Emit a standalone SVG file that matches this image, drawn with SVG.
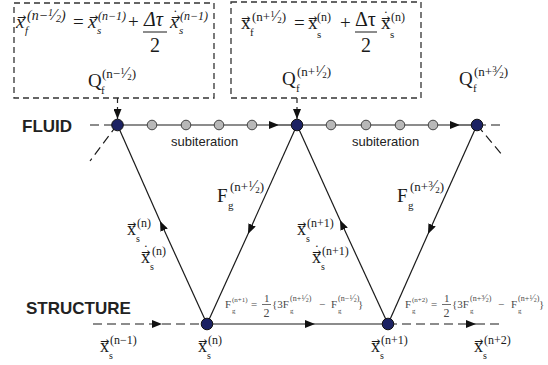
<svg xmlns="http://www.w3.org/2000/svg" width="548" height="365" viewBox="0 0 548 365">
<defs>
<style>
.m{font-family:"Liberation Serif","Times New Roman",serif;fill:#1a1a1a}
.i{font-style:italic}
.n{font-style:normal}
.ar{font-family:"DejaVu Sans",sans-serif;font-size:11px;font-style:normal}
.lab{font-family:"Liberation Sans",Arial,sans-serif;fill:#222}
.b{font-weight:bold}
.box{fill:none;stroke:#333;stroke-width:1.3;stroke-dasharray:6 4}
.vd{fill:none;stroke:#222;stroke-width:1.2;stroke-dasharray:5 4}
.ln{fill:none;stroke:#1a1a1a;stroke-width:1.2}
.dl{fill:none;stroke:#1a1a1a;stroke-width:1.2;stroke-dasharray:9 5}
.dn{fill:#1c2263;stroke:#111;stroke-width:1}
.gn{fill:#b8b8b8;stroke:#444;stroke-width:1}
.fm{fill:#4a4a4a}
</style>
<marker id="ah" viewBox="0 0 10 8" refX="10" refY="4" markerWidth="10" markerHeight="8" markerUnits="userSpaceOnUse" orient="auto">
<path d="M0,0 L10,4 L0,8 z" fill="#111"/>
</marker>
</defs>

<g id="connectors">
<path class="dl" d="M90,125 L117,125"/>
<path class="ln" d="M117,125 L279,125" marker-end="url(#ah)"/>
<path class="ln" d="M279,125 L297,125"/>
<path class="ln" d="M297,125 L460,125" marker-end="url(#ah)"/>
<path class="ln" d="M460,125 L477,125"/>
<path class="dl" d="M477,125 L502,125"/>
<path class="dl" d="M117,125 L90,161"/>
<path class="dl" d="M477,125 L503,156"/>
<path class="vd" d="M117.5,98 L117.5,119" marker-end="url(#ah)"/>
<path class="vd" d="M297,98 L297,119" marker-end="url(#ah)"/>
<path class="ln" d="M207,324 L160,221" marker-end="url(#ah)"/>
<path class="ln" d="M160,221 L117.5,125"/>
<path class="ln" d="M297,125 L248,234" marker-end="url(#ah)"/>
<path class="ln" d="M248,234 L207,324"/>
<path class="ln" d="M388,324 L340,220" marker-end="url(#ah)"/>
<path class="ln" d="M340,220 L297,125"/>
<path class="ln" d="M477,125 L428,234" marker-end="url(#ah)"/>
<path class="ln" d="M428,234 L388,324"/>
<path class="dl" d="M93,324 L162,324" marker-end="url(#ah)"/>
<path class="dl" d="M162,324 L207,324"/>
<path class="ln" d="M207,324 L315,324" marker-end="url(#ah)"/>
<path class="ln" d="M315,324 L388,324"/>
<path class="dl" d="M388,324 L476,324" marker-end="url(#ah)"/>
<path class="dl" d="M476,324 L502,324"/>
</g>

<g id="fluid-subiterations">
<circle class="gn" cx="152" cy="125" r="4.8"/>
<circle class="gn" cx="186" cy="125" r="4.8"/>
<circle class="gn" cx="219" cy="125" r="4.8"/>
<circle class="gn" cx="252" cy="125" r="4.8"/>
<circle class="gn" cx="331" cy="125" r="4.8"/>
<circle class="gn" cx="366" cy="125" r="4.8"/>
<circle class="gn" cx="400" cy="125" r="4.8"/>
<circle class="gn" cx="433" cy="125" r="4.8"/>
</g>
<g id="node-f1"><circle class="dn" cx="117.5" cy="125" r="5.8"/></g>
<g id="node-f2"><circle class="dn" cx="297" cy="125" r="5.8"/></g>
<g id="node-f3"><circle class="dn" cx="477" cy="125" r="5.8"/></g>
<g id="node-s1"><circle class="dn" cx="207" cy="324" r="5.8"/></g>
<g id="node-s2"><circle class="dn" cx="388" cy="324" r="5.8"/></g>

<g id="box1">
<rect class="box" x="14" y="3" width="200" height="95"/>
<text class="m i" font-size="19"><tspan class="ar" x="17" y="20.5">→</tspan><tspan x="16" y="28">x</tspan><tspan x="25" y="34" font-size="11">f</tspan><tspan x="27" y="20" font-size="14">(n−<tspan font-size="10" dy="-4">1</tspan><tspan font-size="17" dy="4">⁄</tspan><tspan font-size="10" dy="2">2</tspan><tspan dy="-2">)</tspan></tspan><tspan class="n" x="73" y="28">=</tspan><tspan class="ar" x="89" y="20.5">→</tspan><tspan x="88" y="28">x</tspan><tspan x="97" y="34" font-size="11">s</tspan><tspan x="98" y="20" font-size="12">(n−1)</tspan><tspan class="n" x="128" y="28">+</tspan><tspan x="144" y="26" font-size="20">Δτ</tspan><tspan class="n" x="150" y="52" font-size="20">2</tspan><tspan class="n" x="173" y="20" font-size="14">˙</tspan><tspan class="ar" x="171" y="20.5">→</tspan><tspan x="170" y="28">x</tspan><tspan x="179" y="34" font-size="11">s</tspan><tspan x="180" y="20" font-size="12">(n−1)</tspan></text>
<line x1="143" y1="32" x2="167" y2="32" stroke="#1a1a1a" stroke-width="1"/>
<text class="m" font-size="19"><tspan x="88" y="87">Q</tspan><tspan x="101" y="94" font-size="11">f</tspan><tspan x="102" y="78" font-size="13">(n−<tspan font-size="9" dy="-4">1</tspan><tspan font-size="16" dy="4">⁄</tspan><tspan font-size="9" dy="2">2</tspan><tspan dy="-2">)</tspan></tspan></text>
</g>

<g id="box2">
<rect class="box" x="231" y="2" width="190" height="96"/>
<text class="m" font-size="19"><tspan class="ar" x="241" y="21.5">→</tspan><tspan x="241" y="29">x</tspan><tspan x="250" y="36" font-size="11">f</tspan><tspan x="252" y="21" font-size="13">(n+<tspan font-size="9" dy="-4">1</tspan><tspan font-size="16" dy="4">⁄</tspan><tspan font-size="9" dy="2">2</tspan><tspan dy="-2">)</tspan></tspan><tspan x="294" y="29">=</tspan><tspan class="ar" x="308" y="21.5">→</tspan><tspan x="308" y="29">x</tspan><tspan x="317" y="38" font-size="11">s</tspan><tspan x="317" y="21" font-size="12">(n)</tspan><tspan x="340" y="29">+</tspan><tspan x="355" y="26" font-size="20">Δτ</tspan><tspan x="361" y="52" font-size="20">2</tspan><tspan x="383.5" y="21" font-size="14">˙</tspan><tspan class="ar" x="381" y="21.5">→</tspan><tspan x="381" y="29">x</tspan><tspan x="390" y="38" font-size="11">s</tspan><tspan x="391" y="21" font-size="12">(n)</tspan></text>
<line x1="355" y1="32" x2="377" y2="32" stroke="#1a1a1a" stroke-width="1"/>
<text class="m" font-size="19"><tspan x="282" y="85">Q</tspan><tspan x="296" y="92" font-size="11">f</tspan><tspan x="297" y="76" font-size="13">(n+<tspan font-size="9" dy="-4">1</tspan><tspan font-size="16" dy="4">⁄</tspan><tspan font-size="9" dy="2">2</tspan><tspan dy="-2">)</tspan></tspan></text>
</g>

<g id="q3">
<text class="m" font-size="19"><tspan x="459" y="85">Q</tspan><tspan x="473" y="92" font-size="11">f</tspan><tspan x="474" y="76" font-size="13">(n+<tspan font-size="9" dy="-4">3</tspan><tspan font-size="16" dy="4">⁄</tspan><tspan font-size="9" dy="2">2</tspan><tspan dy="-2">)</tspan></tspan></text>
</g>

<g id="labels">
<text class="lab b" x="22" y="132" font-size="17">FLUID</text>
<text class="lab b" x="26" y="314" font-size="17">STRUCTURE</text>
<text class="lab" x="171" y="146" font-size="13" fill="#333">subiteration</text>
<text class="lab" x="352" y="146" font-size="13" fill="#333">subiteration</text>
</g>

<g id="diag-labels">
<text class="m" font-size="18"><tspan class="ar" x="127" y="228">→</tspan><tspan x="127" y="235">x</tspan><tspan x="136" y="242" font-size="10">s</tspan><tspan x="137" y="227" font-size="12">(n)</tspan></text>
<text class="m" font-size="18"><tspan x="143.5" y="255" font-size="14">˙</tspan><tspan class="ar" x="141" y="256">→</tspan><tspan x="141" y="263">x</tspan><tspan x="150" y="270" font-size="10">s</tspan><tspan x="152" y="255" font-size="12">(n)</tspan></text>
<text class="m" font-size="19"><tspan x="217" y="202">F</tspan><tspan x="228" y="209" font-size="11">g</tspan><tspan x="230" y="191" font-size="13">(n+<tspan font-size="9" dy="-4">1</tspan><tspan font-size="16" dy="4">⁄</tspan><tspan font-size="9" dy="2">2</tspan><tspan dy="-2">)</tspan></tspan></text>
<text class="m" font-size="18"><tspan class="ar" x="297" y="228">→</tspan><tspan x="297" y="235">x</tspan><tspan x="306" y="242" font-size="10">s</tspan><tspan x="307" y="227" font-size="12">(n+1)</tspan></text>
<text class="m" font-size="18"><tspan x="314.5" y="255" font-size="14">˙</tspan><tspan class="ar" x="312" y="256">→</tspan><tspan x="312" y="263">x</tspan><tspan x="321" y="270" font-size="10">s</tspan><tspan x="322" y="255" font-size="12">(n+1)</tspan></text>
<text class="m" font-size="19"><tspan x="397" y="202">F</tspan><tspan x="408" y="209" font-size="11">g</tspan><tspan x="410" y="191" font-size="13">(n+<tspan font-size="9" dy="-4">3</tspan><tspan font-size="16" dy="4">⁄</tspan><tspan font-size="9" dy="2">2</tspan><tspan dy="-2">)</tspan></tspan></text>
</g>

<g id="bottom-labels">
<text class="m" font-size="18"><tspan class="ar" x="100" y="345">→</tspan><tspan x="100" y="352">x</tspan><tspan x="109" y="359" font-size="10">s</tspan><tspan x="110" y="344" font-size="12">(n−1)</tspan></text>
<text class="m" font-size="18"><tspan class="ar" x="198" y="345">→</tspan><tspan x="198" y="352">x</tspan><tspan x="207" y="359" font-size="10">s</tspan><tspan x="208" y="344" font-size="12">(n)</tspan></text>
<text class="m" font-size="18"><tspan class="ar" x="371" y="345">→</tspan><tspan x="371" y="352">x</tspan><tspan x="380" y="359" font-size="10">s</tspan><tspan x="381" y="344" font-size="12">(n+1)</tspan></text>
<text class="m" font-size="18"><tspan class="ar" x="474" y="345">→</tspan><tspan x="474" y="352">x</tspan><tspan x="483" y="359" font-size="10">s</tspan><tspan x="484" y="344" font-size="12">(n+2)</tspan></text>
</g>

<g id="formula1">
<text class="m fm" font-size="11"><tspan x="225" y="308">F</tspan><tspan x="232" y="302" font-size="7">(n+1)</tspan><tspan x="232" y="313" font-size="7">g</tspan><tspan x="251" y="308">=</tspan><tspan x="264" y="302">1</tspan><tspan x="263.5" y="317" font-size="12">2</tspan><tspan x="272" y="308">{3F</tspan><tspan x="290" y="301" font-size="8">(n+<tspan font-size="6" dy="-2">1</tspan><tspan font-size="10" dy="2">⁄</tspan><tspan font-size="6" dy="1">2</tspan><tspan dy="-1">)</tspan></tspan><tspan x="290" y="313" font-size="7">g</tspan><tspan x="319" y="308">−</tspan><tspan x="331" y="308">F</tspan><tspan x="338" y="301" font-size="8">(n−<tspan font-size="6" dy="-2">1</tspan><tspan font-size="10" dy="2">⁄</tspan><tspan font-size="6" dy="1">2</tspan><tspan dy="-1">)</tspan></tspan><tspan x="338" y="313" font-size="7">g</tspan><tspan x="358" y="308">}</tspan></text>
<line x1="262" y1="304.5" x2="271" y2="304.5" stroke="#4a4a4a" stroke-width="0.8"/>
</g>

<g id="formula2">
<text class="m fm" font-size="11"><tspan x="405" y="308">F</tspan><tspan x="412" y="302" font-size="7">(n+2)</tspan><tspan x="412" y="313" font-size="7">g</tspan><tspan x="431" y="308">=</tspan><tspan x="444" y="302">1</tspan><tspan x="443.5" y="317" font-size="12">2</tspan><tspan x="452" y="308">{3F</tspan><tspan x="470" y="301" font-size="8">(n+<tspan font-size="6" dy="-2">3</tspan><tspan font-size="10" dy="2">⁄</tspan><tspan font-size="6" dy="1">2</tspan><tspan dy="-1">)</tspan></tspan><tspan x="470" y="313" font-size="7">g</tspan><tspan x="498" y="308">−</tspan><tspan x="511" y="308">F</tspan><tspan x="518" y="301" font-size="8">(n+<tspan font-size="6" dy="-2">1</tspan><tspan font-size="10" dy="2">⁄</tspan><tspan font-size="6" dy="1">2</tspan><tspan dy="-1">)</tspan></tspan><tspan x="518" y="313" font-size="7">g</tspan><tspan x="539" y="308">}</tspan></text>
<line x1="442" y1="304.5" x2="451" y2="304.5" stroke="#4a4a4a" stroke-width="0.8"/>
</g>
</svg>
